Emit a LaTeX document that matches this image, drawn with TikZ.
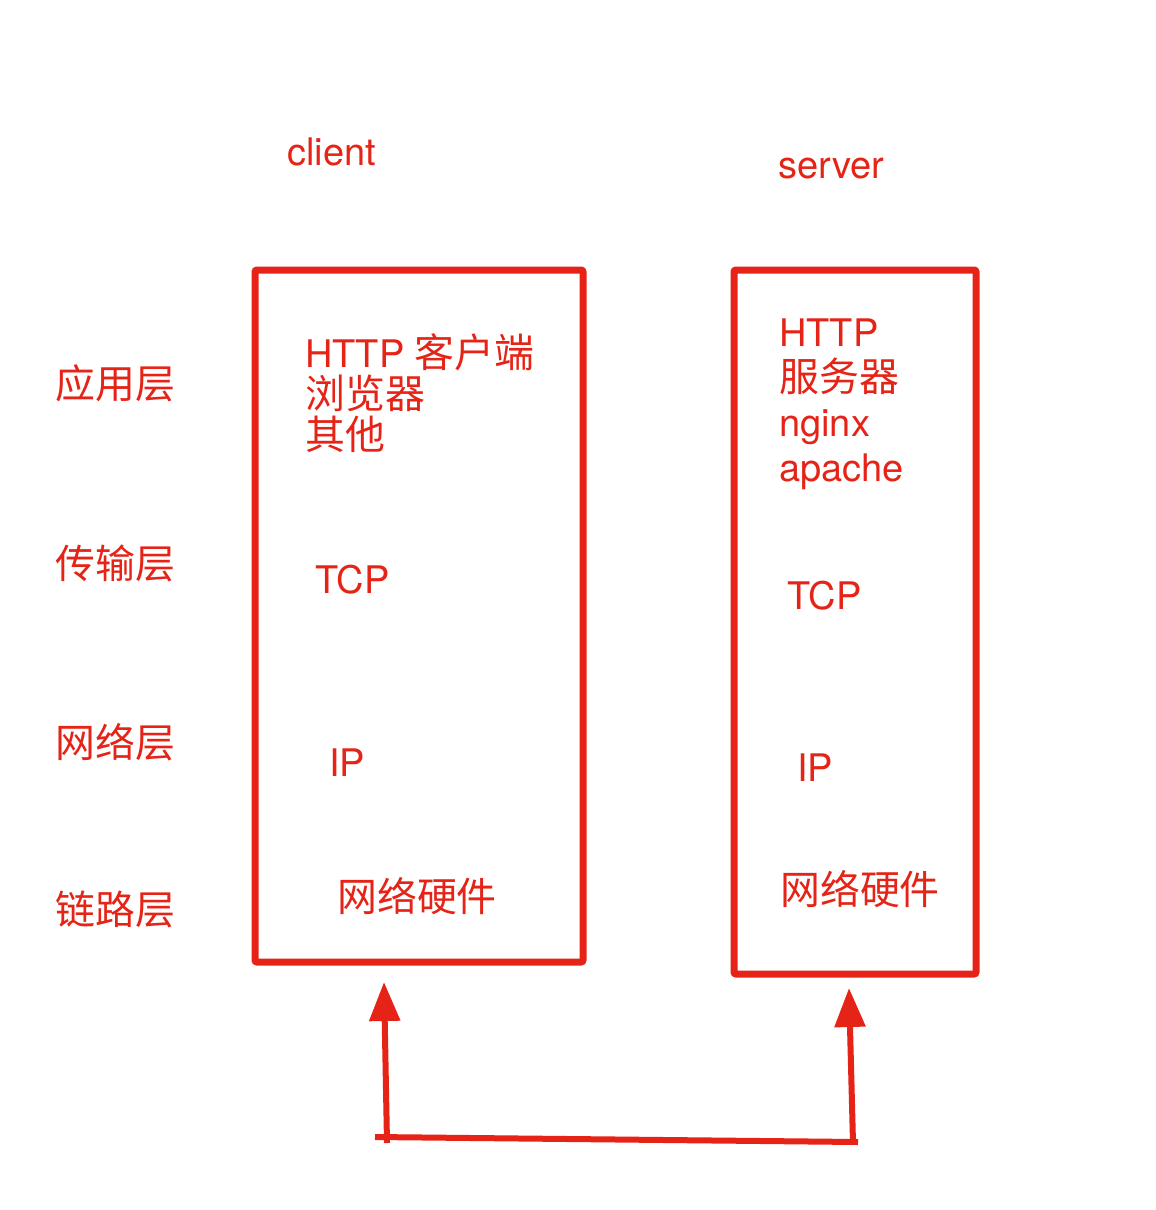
\documentclass[tikz,border=0pt]{standalone}
\usepackage{fontspec}
\setmainfont{TeX Gyre Heros}
\newfontfamily\cjk[Scale=1.05]{Noto Sans CJK SC}
\usepackage{xcolor}
\usetikzlibrary{arrows.meta,positioning}
\definecolor{InkRed}{RGB}{229,35,22}

\begin{document}
\begin{tikzpicture}[x=1pt, y=-1pt, >={Triangle[length=39pt,width=30pt]},
    lbl/.style={text=InkRed, inner sep=0pt, anchor=base west, font=\fontsize{38}{41}\selectfont},
    stackbox/.style={draw=InkRed, line width=7pt, rounded corners=2pt, inner sep=0pt},
    wire/.style={draw=InkRed, line width=6pt}]
  \useasboundingbox (0,0) rectangle (1156,1210);
  % host boxes
  \node[stackbox, minimum width=328pt, minimum height=692pt] (client) at (419,616) {};
  \node[stackbox, minimum width=242pt, minimum height=704pt] (server) at (855,622) {};
  % titles
  \node[lbl] (clientname) at (287,165) {client};
  \node[lbl] (servername) at (778,178) {server};
  % layer names
  \node[lbl] (app) at (55,398) {\cjk 应用层};
  \node[lbl] (trans) at (55,578) {\cjk 传输层};
  \node[lbl] (net) at (55,757) {\cjk 网络层};
  \node[lbl] (link) at (55,924) {\cjk 链路层};
  % client stack (base = last line)
  \node[lbl, align=left] (capp) at (305,449) {HTTP {\cjk 客户端}\\{\cjk 浏览器}\\{\cjk 其他}};
  \node[lbl] (ctcp) at (315,593) {TCP};
  \node[lbl] (cip) at (329,776) {IP};
  \node[lbl] (chw) at (337,911) {\cjk 网络硬件};
  % server stack
  \node[lbl, align=left, font=\fontsize{38}{45}\selectfont] (sapp) at (779,481) {HTTP\\{\cjk 服务器}\\nginx\\apache};
  \node[lbl] (stcp) at (787,609) {TCP};
  \node[lbl] (sip) at (797,781) {IP};
  \node[lbl] (shw) at (780,904) {\cjk 网络硬件};
  % link between the two hosts
  \coordinate (lfoot) at (387,1143);
  \coordinate (rfoot) at (853,1143);
  \coordinate (ltip) at (384,982);
  \coordinate (rtip) at (849,988);
  \draw[wire] (375,1137) -- (858,1142);
  \draw[wire, ->, InkRed] (lfoot) -- (ltip);
  \draw[wire, ->, InkRed] (rfoot) -- (rtip);
\end{tikzpicture}
\end{document}
